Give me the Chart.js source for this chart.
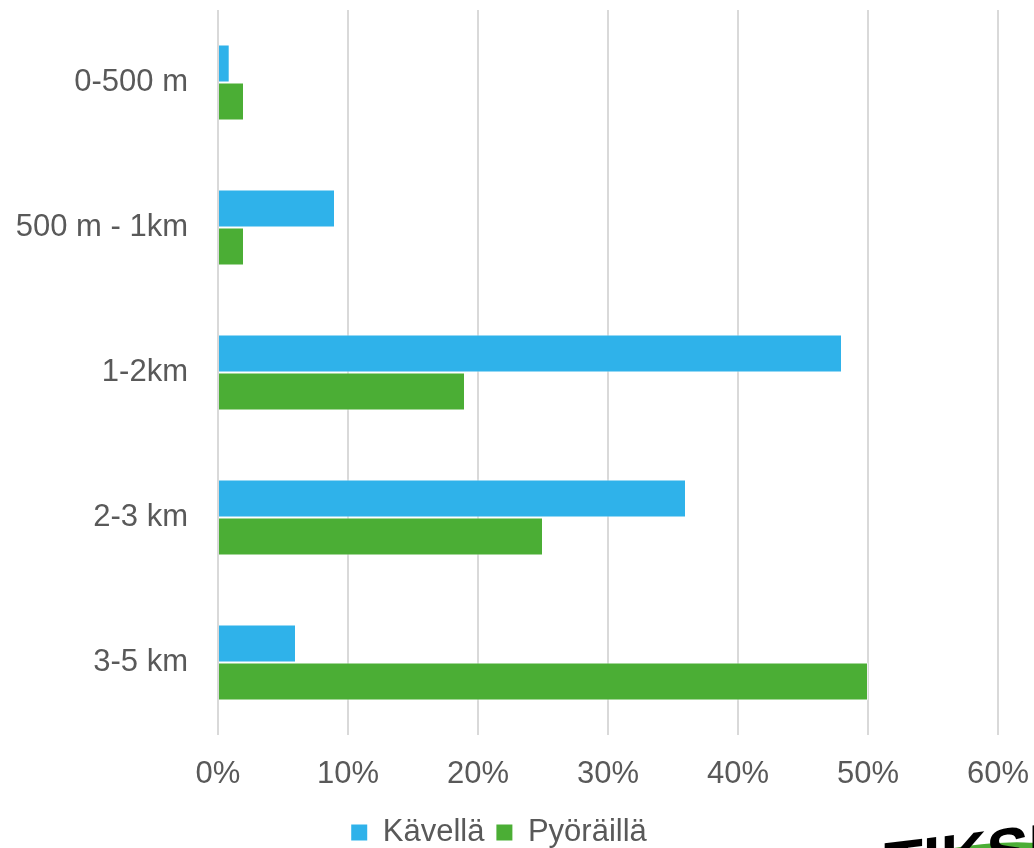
<!DOCTYPE html>
<html>
<head>
<meta charset="utf-8">
<script src="https://cdn.jsdelivr.net/npm/chart.js@4"></script>
<style>
  html, body { margin: 0; padding: 0; background: #fff; }
  #wrap { width: 1034px; height: 848px; position: relative; }
</style>
</head>
<body>
<div id="wrap"><canvas id="myChart"></canvas></div>
<script>
const categories = ["0-500 m", "500 m - 1km", "1-2km", "2-3 km", "3-5 km"];
const kavella = [0.9, 9, 48, 36, 6];
const pyoraillä = [2, 2, 19, 25, 50];
const tickValues = [0, 10, 20, 30, 40, 50, 60];

const textColor = "#595959";
const font = "'Liberation Sans', Arial, sans-serif";

// little logo corner in the bottom right, like in the original slide
const logo = {
  id: "logo",
  afterDraw(chart) {
    const ctx = chart.ctx;
    ctx.save();
    ctx.fillStyle = "#4bae35";
    ctx.beginPath();
    ctx.ellipse(985, 878, 112, 34, -0.1, 0, Math.PI * 2);
    ctx.fill();
    ctx.translate(884, 870);
    ctx.rotate(-0.12);
    ctx.transform(1, 0, -0.12, 1, 0, 0);
    ctx.fillStyle = "#000";
    ctx.font = "bold 64px " + font;
    ctx.fillText("TIKSU", 0, 0);
    ctx.restore();
  },
};

const ctx = document.getElementById("myChart");
new Chart(ctx, {
  type: "bar",
  data: {
    labels: categories,
    datasets: [
      {
        label: "Kävellä",
        data: kavella,
        backgroundColor: "#2fb2ea",
        borderColor: "rgba(255,255,255,0.6)",
        borderWidth: 1,
      },
      {
        label: "Pyöräillä",
        data: pyoraillä,
        backgroundColor: "#4bae35",
        borderColor: "rgba(255,255,255,0.6)",
        borderWidth: 1,
      },
    ],
  },
  options: {
    indexAxis: "y",
    responsive: true,
    maintainAspectRatio: false,
    animation: false,
    layout: { padding: { top: 10, right: 36, bottom: -10, left: 0 } },
    datasets: {
      bar: { categoryPercentage: 0.524, barPercentage: 1 },
    },
    scales: {
      x: {
        min: 0,
        max: 60,
        afterBuildTicks: (scale) => {
          scale.ticks = tickValues.map((v) => ({ value: v }));
        },
        afterFit: (scale) => {
          scale.height = 70;
          scale.paddingLeft = 0;
          scale.paddingRight = 0;
        },
        ticks: {
          color: textColor,
          font: { family: font, size: 31 },
          padding: 21,
          callback: (v) => v + "%",
        },
        grid: { color: "#d9d9d9", lineWidth: 2, drawTicks: false },
        border: { display: false },
      },
      y: {
        afterFit: (scale) => {
          scale.width = 218;
          scale.paddingTop = 0;
          scale.paddingBottom = 0;
        },
        ticks: {
          color: textColor,
          font: { family: font, size: 31 },
          padding: 30,
        },
        grid: { display: false, drawTicks: false },
        border: { display: false },
      },
    },
    plugins: {
      legend: {
        position: "bottom",
        labels: {
          color: textColor,
          font: { family: font, size: 31 },
          boxWidth: 16,
          boxHeight: 16,
          padding: 12,
          generateLabels: (chart) =>
            chart.data.datasets.map((d, i) => ({
              text: d.label,
              fillStyle: d.backgroundColor,
              strokeStyle: d.backgroundColor,
              lineWidth: 0,
              fontColor: textColor,
              datasetIndex: i,
            })),
        },
      },
      tooltip: { enabled: false },
    },
  },
  plugins: [logo],
});
</script>
</body>
</html>
